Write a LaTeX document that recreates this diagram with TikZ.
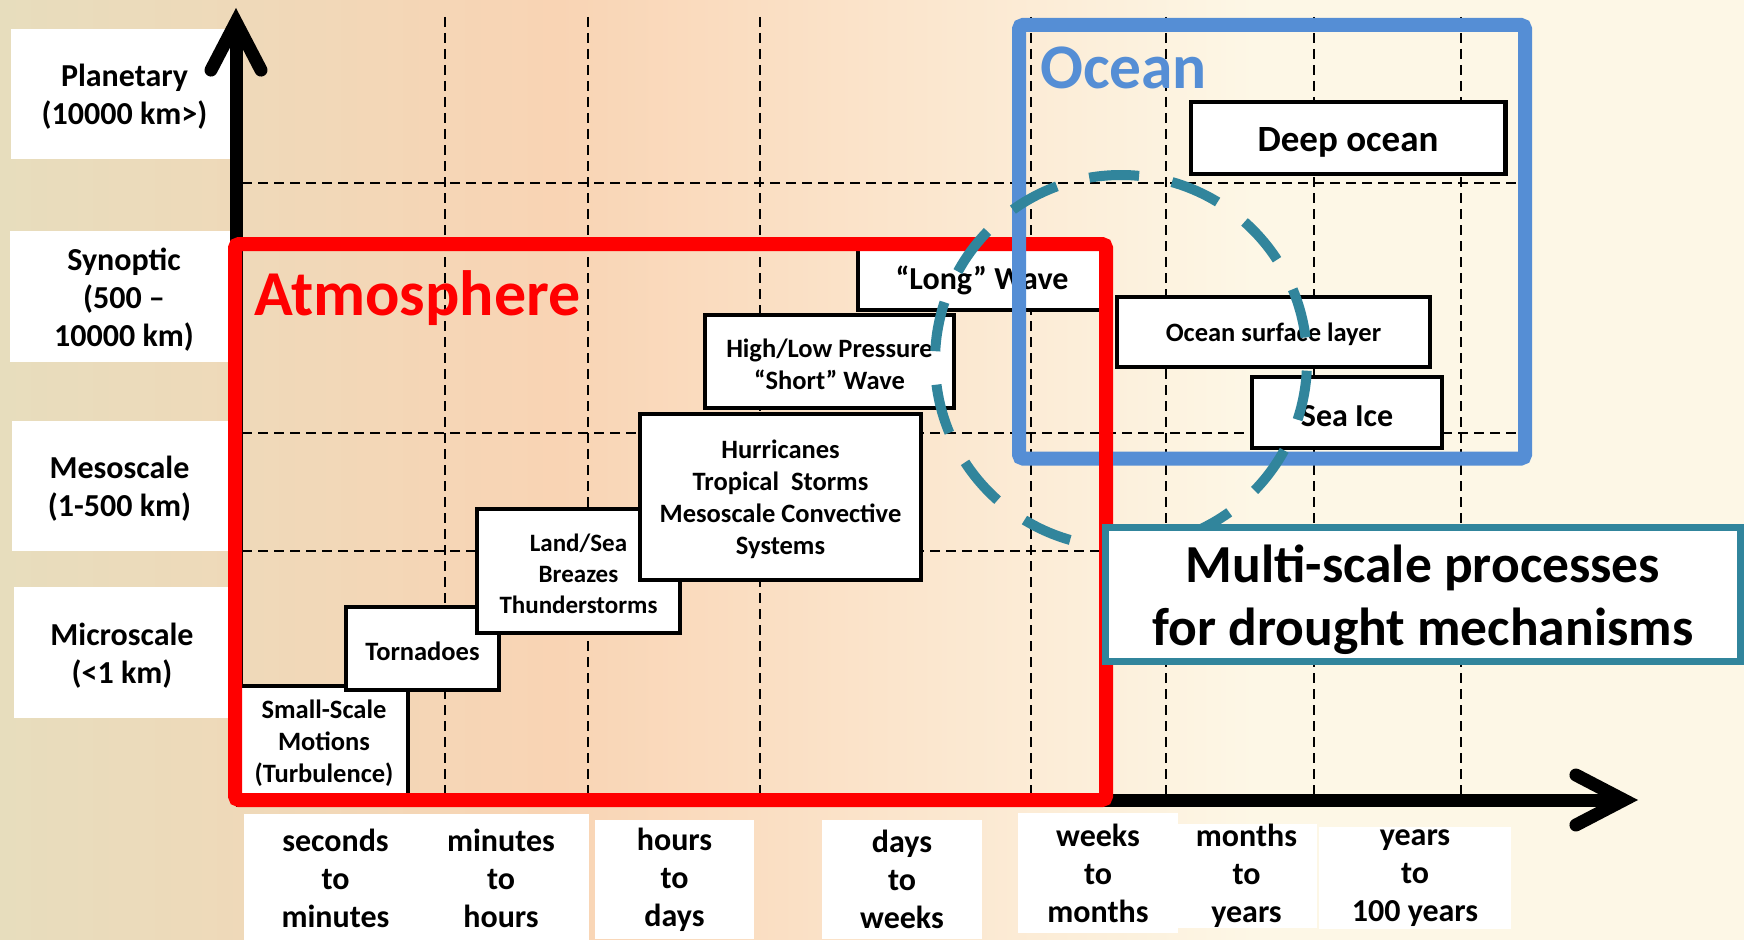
\documentclass[tikz,border=0pt]{standalone}
\usepackage{fontspec}
\setmainfont{Carlito}
\usetikzlibrary{arrows.meta}

% Colours
\definecolor{atmored}{HTML}{FF0000}
\definecolor{oceanblue}{HTML}{558ED5}
\definecolor{ringteal}{HTML}{31859C}
\definecolor{bgbeige}{HTML}{E7DDBD}
\definecolor{bgpeach}{HTML}{F9D4B4}
\definecolor{bgcream}{HTML}{FDF7E6}

% Background colour run, left to right (the path spans 25bp to 75bp)
\pgfdeclarehorizontalshading{backdrop}{100bp}{color(0bp)=(bgbeige); color(25bp)=(bgbeige); color(41bp)=(bgpeach); color(61bp)=(bgcream); color(100bp)=(bgcream)}

\newcommand{\fsz}[2]{\bfseries\fontsize{#1}{#2}\selectfont}
\newcommand{\lift}{\rule{0pt}{0.9em}} % taller first line, text sits a bit lower

\tikzset{
  timelabel/.style={fill=white, inner sep=0pt, align=center, font=\fsz{32}{38}},
  scalelabel/.style={timelabel},
  phenom/.style={draw=black, line width=4.5pt, fill=white, inner sep=0pt, align=center, font=\fsz{26.5}{32}},
  gridline/.style={dash pattern=on 10pt off 6pt, line width=2pt},
  axisline/.style={line width=13pt, -{Straight Barb[length=48pt,width=50pt,line cap=round,line join=miter]}},
}

\begin{document}
\begin{tikzpicture}[x=1pt, y=-1pt]

    \useasboundingbox (0,0) rectangle (1744,939);
    \shade[shading=backdrop] (0,0) rectangle (1744,939);

    % Define coordinates
    \coordinate (Origin) at (236,800); % where the axes meet
    \coordinate (YTip) at (236,8);
    \coordinate (XTip) at (1638,800);

    % Dashed grid
    \foreach \gx in {445,588,760,1031,1166,1313.5,1461}
        \draw[gridline] (\gx,17) -- (\gx,800);
    \foreach \gy in {183,433,551}
        \draw[gridline] (242,\gy) -- (1518,\gy);

    % Space scales on the left
    \node[scalelabel, minimum width=227pt, minimum height=130pt] (Planetary) at (124.5,94) {\lift Planetary\\(10000 km>)};
    \node[scalelabel, minimum width=228pt, minimum height=131pt] (Synoptic) at (124,296.5) {\lift Synoptic\\(500 –\\10000 km)};
    \node[scalelabel, minimum width=216pt, minimum height=130pt] (Mesoscale) at (119.5,486) {\lift Mesoscale\\(1-500 km)};
    \node[scalelabel, minimum width=216pt, minimum height=131pt] (Microscale) at (122,652.5) {\lift Microscale\\(<1 km)};

    % Time scales below
    \node[timelabel, minimum width=183pt, minimum height=128pt] (SecMin) at (335.5,878) {seconds\\to\\minutes};
    \node[timelabel, minimum width=176pt, minimum height=128pt] (MinHour) at (501,878) {minutes\\to\\hours};
    \node[timelabel, minimum width=159pt, minimum height=119pt] (HourDay) at (674.5,879.5) {hours\\to\\days};
    \node[timelabel, minimum width=160pt, minimum height=119pt] (DayWeek) at (902,879.5) {days\\to\\weeks};
    \node[timelabel, minimum width=160pt, minimum height=120pt] (WeekMonth) at (1098,873) {weeks\\to\\months};
    \node[timelabel, minimum width=141pt, minimum height=102pt] (MonthYear) at (1246.5,876) {months\\to\\years};
    \node[timelabel, minimum width=192pt, minimum height=102pt] (YearCent) at (1415,878) {years\\to\\100 years};

    % Axes
    \draw[axisline] (Origin) -- (YTip);
    \draw[axisline] (Origin) -- (XTip);

    % Atmospheric phenomena, small to large
    \node[phenom, minimum width=168pt, minimum height=114pt] (SmallScale) at (324,743) {Small-Scale\\Motions\\(Turbulence)};
    \node[phenom, minimum width=153pt, minimum height=83pt] (Tornadoes) at (422.5,648.5) {\lift Tornadoes};
    \node[phenom, minimum width=203pt, minimum height=124pt, font=\fsz{25}{31}] (LandSea) at (578.5,571) {\lift Land/Sea\\Breazes\\Thunderstorms};
    \node[phenom, minimum width=281pt, minimum height=166pt] (Hurricanes) at (780.5,497) {\lift Hurricanes\\Tropical\ \ Storms\\Mesoscale Convective\\Systems};
    \node[phenom, minimum width=249pt, minimum height=93pt] (HighLow) at (829.5,361.5) {\lift High/Low Pressure\\“Short” Wave};
    \node[phenom, minimum width=248pt, minimum height=64pt, font=\fsz{32}{38}] (LongWave) at (982,278) {\lift “Long” Wave};

    % Ocean phenomena
    \node[phenom, minimum width=314.5pt, minimum height=72pt, font=\fsz{37}{44}] (DeepOcean) at (1348,138) {\lift Deep ocean};
    \node[phenom, minimum width=313pt, minimum height=70pt] (SurfaceLayer) at (1273.5,332) {\lift Ocean surface layer};
    \node[phenom, minimum width=190pt, minimum height=71pt, font=\fsz{32}{38}] (SeaIce) at (1347,412.5) {\lift Sea Ice};

    % Atmosphere and ocean frames
    \draw[atmored, line width=14pt, rounded corners=4pt] (235,244) rectangle (1106,800);
    \draw[oceanblue, line width=14pt, rounded corners=4pt] (1019,25) rectangle (1525,458.5);
    \draw[atmored, line width=14pt] (1106,445) -- (1106,475); % red lies over blue here

    % Dashed ring of coupled scales
    \draw[ringteal, line width=10pt, dash pattern=on 50pt off 33.5pt, dash phase=73.8pt] (1121,361) circle[radius=186];

    \node[draw=ringteal, line width=7pt, fill=white, inner sep=0pt, align=center, minimum width=635.5pt, minimum height=134pt,
          font=\fsz{53.5}{63.5}] (MultiScale) at (1423,594.5) {\lift Multi-scale processes\\for drought mechanisms};

    % Frame titles
    \node[anchor=base west, inner sep=0pt, text=atmored, font=\fsz{64}{70}] (AtmosTitle) at (254,315) {Atmosphere};
    \node[anchor=base west, inner sep=0pt, text=oceanblue, font=\fsz{63.5}{70}] (OceanTitle) at (1040,89) {Ocean};

\end{tikzpicture}
\end{document}
